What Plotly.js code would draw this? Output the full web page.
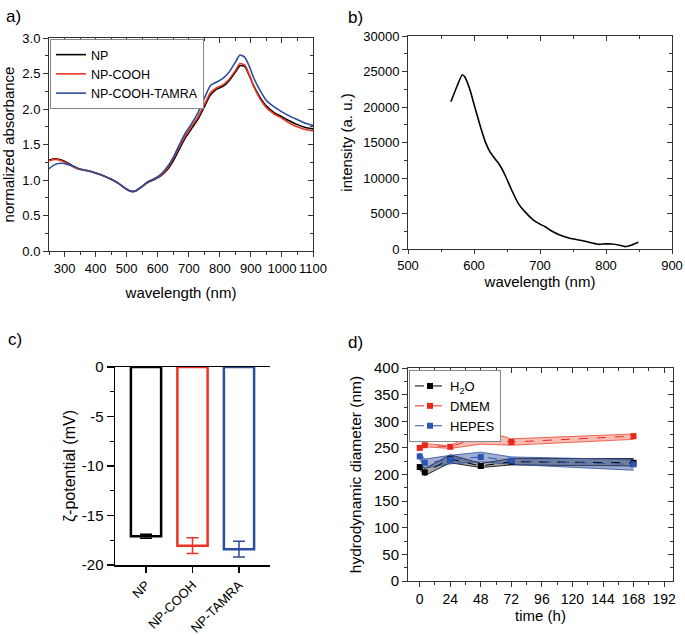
<!DOCTYPE html>
<html><head><meta charset="utf-8">
<script src="https://cdn.plot.ly/plotly-3.0.1.min.js"></script>
<style>html,body{margin:0;padding:0;background:#fff}#chart{width:685px;height:635px}</style>
</head><body><div id="chart"></div>
<script>
// ---------- Panel a: absorbance ----------
const wlA = [250,270,290,310,330,350,375,400,425,450,475,500,515,530,550,570,590,610,630,650,670,690,710,730,750,770,790,810,830,850,865,880,895,910,930,950,975,1000,1025,1050,1075,1100];
const absNP = [1.28,1.30,1.28,1.24,1.19,1.15,1.13,1.10,1.06,1.01,0.95,0.87,0.84,0.85,0.91,0.97,1.01,1.06,1.14,1.27,1.44,1.60,1.73,1.86,2.03,2.20,2.28,2.32,2.40,2.52,2.61,2.60,2.47,2.32,2.16,2.04,1.95,1.89,1.83,1.78,1.74,1.72];
const absCOOH = [1.27,1.29,1.27,1.23,1.18,1.15,1.13,1.10,1.06,1.01,0.95,0.87,0.84,0.85,0.91,0.98,1.02,1.07,1.16,1.30,1.47,1.63,1.76,1.89,2.06,2.23,2.30,2.34,2.42,2.54,2.64,2.62,2.48,2.31,2.14,2.02,1.93,1.87,1.80,1.75,1.71,1.69];
const absTAMRA = [1.16,1.22,1.235,1.22,1.19,1.15,1.13,1.10,1.06,1.01,0.95,0.87,0.84,0.85,0.91,0.98,1.02,1.08,1.18,1.32,1.50,1.67,1.80,1.95,2.15,2.33,2.38,2.43,2.52,2.66,2.76,2.73,2.60,2.43,2.26,2.12,2.03,1.96,1.90,1.85,1.80,1.77];
const absNames = ['NP','NP-COOH','NP-COOH-TAMRA'];

// ---------- Panel b: emission ----------
const wlB = [565,574,582,586,594,601,609,617,624,632,639,647,657,667,677,690,700,708,715,730,745,766,788,800,809,819,829,839,849];
const intB = [20750,22860,24510,24270,22390,20050,17460,15120,13710,12680,11830,10420,8310,6430,5260,4080,3500,3140,2680,1970,1500,1130,660,720,700,560,330,560,940];

// ---------- Panel c: zeta potential ----------
const zetaCats = ['NP','NP-COOH','NP-TAMRA'];
const zetaVals = [-17.1,-18.05,-18.4];
const zetaErr = [0.2,0.8,0.8];
const zetaTickVals = [-20,-15,-10,-5,0];
const zetaTickText = ['-20','-15','-10','-5','0'];

// ---------- Panel d: hydrodynamic diameter ----------
const tD = [0,4,24,48,72,168];
const h2oMean = [214,204,229,216,224,222];
const h2oLo = [209,198,222,213,218,216];
const h2oHi = [219,211,237,221,230,230];
const dmemMean = [250,255,252,271,261,272];
const dmemLo = [247,252,249,257,255,266];
const dmemHi = [253,258,254,284,267,276];
const hepesMean = [234,222,228,233,226,219];
const hepesLo = [228,212,220,224,219,208];
const hepesHi = [241,229,236,242,233,228];
const dNames = ['H<sub>2</sub>O','DMEM','HEPES'];

const cBlack = '#000000', cRed = '#ec3323', cBlue = '#2c4c9c';
const FONT = 'Liberation Sans, Arial, sans-serif';
const W = 685, H = 635;
const dx = (a,b) => [a/W, b/W];
const dy = (top,bot) => [1-bot/H, 1-top/H];

const traces = [];
// panel a
[[absNP,cBlack],[absCOOH,cRed],[absTAMRA,cBlue]].forEach((s,i)=>{
  traces.push({type:'scatter', mode:'lines', x:wlA, y:s[0], name:absNames[i],
    line:{color:s[1], width:1.6, shape:'spline', smoothing:0.6},
    xaxis:'x', yaxis:'y', legend:'legend', hoverinfo:'skip'});
});
// panel b
traces.push({type:'scatter', mode:'lines', x:wlB, y:intB, line:{color:'#000', width:1.6, shape:'spline', smoothing:0.5},
  xaxis:'x2', yaxis:'y2', showlegend:false, hoverinfo:'skip'});
// panel c
const zetaColors = [cBlack, cRed, cBlue];
zetaCats.forEach((c,i)=>{
  traces.push({type:'bar', x:[c], y:[zetaVals[i]], width:0.65, xaxis:'x3', yaxis:'y3', showlegend:false,
    marker:{color:'rgba(0,0,0,0)', line:{color:zetaColors[i], width:2.5}},
    error_y:{type:'data', array:[zetaErr[i]], visible:true, color:zetaColors[i], thickness:1.5, width:6},
    hoverinfo:'skip'});
});
// panel d bands
const bands = [[h2oLo,h2oHi,'0,0,0',0.35],[dmemLo,dmemHi,'236,70,45',0.35],[hepesLo,hepesHi,'44,76,156',0.45]];
bands.forEach(b=>{
  traces.push({type:'scatter', mode:'lines', x:tD, y:b[0], line:{color:'rgba('+b[2]+',0.8)', width:1},
    xaxis:'x4', yaxis:'y4', showlegend:false, hoverinfo:'skip'});
  traces.push({type:'scatter', mode:'lines', x:tD, y:b[1], line:{color:'rgba('+b[2]+',0.8)', width:1},
    fill:'tonexty', fillcolor:'rgba('+b[2]+','+b[3]+')',
    xaxis:'x4', yaxis:'y4', showlegend:false, hoverinfo:'skip'});
});
[[h2oMean,cBlack],[dmemMean,'#e8281c'],[hepesMean,'#2a56b4']].forEach((s,i)=>{
  traces.push({type:'scatter', mode:'lines+markers', x:tD, y:s[0], name:dNames[i],
    line:{color:s[1], width:1, dash:'dash'}, marker:{symbol:'square', size:6, color:s[1]},
    xaxis:'x4', yaxis:'y4', legend:'legend2', hoverinfo:'skip'});
});
// dummy traces so the mirror (top/right) axes are drawn
[['x5','y5'],['x6','y6'],['x7','y7']].forEach(p=>{
  traces.push({type:'scatter', mode:'lines', x:[null], y:[null], xaxis:p[0], yaxis:p[1], showlegend:false, hoverinfo:'skip'});
});

const LC = '#333';
function baseAx(o){
  return Object.assign({showgrid:false, zeroline:false, showline:true, linecolor:LC, linewidth:1,
    ticks:'outside', ticklen:5, tickcolor:LC, tickwidth:1, fixedrange:true}, o);
}
function mirrorAx(o){
  return Object.assign({showgrid:false, zeroline:false, showline:true, linecolor:LC, linewidth:1,
    ticks:'inside', ticklen:5, tickcolor:LC, tickwidth:1, showticklabels:false, fixedrange:true}, o);
}

const layout = {
  width:W, height:H, margin:{l:0,r:0,t:0,b:0}, paper_bgcolor:'#fff', plot_bgcolor:'#fff',
  font:{family:FONT, color:'#000', size:13}, showlegend:true, barmode:'overlay',
  // panel a
  xaxis: baseAx({domain:dx(49,313), anchor:'y', range:[250,1100], dtick:100, tick0:0,
    minor:{dtick:50, ticks:'outside', ticklen:3, tickcolor:LC},
    tickfont:{size:13}, title:{text:'wavelength (nm)', font:{size:15}, standoff:12}}),
  yaxis: baseAx({domain:dy(38,251), anchor:'x', range:[0,3], dtick:0.5, tickformat:'.1f',
    minor:{dtick:0.25, ticks:'outside', ticklen:3, tickcolor:LC},
    tickfont:{size:13}, title:{text:'normalized absorbance', font:{size:15}, standoff:6}}),
  xaxis5: mirrorAx({overlaying:'x', anchor:'y', side:'top', range:[250,1100], dtick:100, tick0:0,
    minor:{dtick:50, ticks:'inside', ticklen:3, tickcolor:LC}}),
  yaxis5: mirrorAx({overlaying:'y', anchor:'x', side:'right', range:[0,3], dtick:0.5,
    minor:{dtick:0.25, ticks:'inside', ticklen:3, tickcolor:LC}}),
  // panel b
  xaxis2: baseAx({domain:dx(408,672), anchor:'y2', range:[500,900], dtick:100, tick0:0, ticklen:4,
    minor:{dtick:50, ticks:'outside', ticklen:2, tickcolor:LC},
    tickfont:{size:13}, title:{text:'wavelength (nm)', font:{size:15}, standoff:0}}),
  yaxis2: baseAx({domain:dy(36,249), anchor:'x2', range:[0,30000], dtick:5000, tickformat:'d',
    minor:{dtick:2500, ticks:'outside', ticklen:3, tickcolor:LC},
    tickfont:{size:13}, title:{text:'intensity (a. u.)', font:{size:15}, standoff:6}}),
  xaxis6: mirrorAx({overlaying:'x2', anchor:'y2', side:'top', range:[500,900], dtick:100, tick0:0,
    minor:{dtick:50, ticks:'inside', ticklen:3, tickcolor:LC}}),
  yaxis6: mirrorAx({overlaying:'y2', anchor:'x2', side:'right', range:[0,30000], dtick:5000,
    minor:{dtick:2500, ticks:'inside', ticklen:3, tickcolor:LC}}),
  // panel c
  xaxis3: baseAx({domain:dx(115,270), anchor:'y3', type:'category', range:[-0.667,2.667],
    linecolor:'#000', linewidth:1.5, mirror:true, tickcolor:'#000', ticklen:6, tickwidth:1.2,
    tickangle:-45, tickfont:{size:13}}),
  yaxis3: baseAx({domain:dy(367,565), anchor:'x3', range:[-20,0], tickvals:zetaTickVals, ticktext:zetaTickText,
    linecolor:'#000', linewidth:1.5, tickcolor:'#000', ticklen:7, tickwidth:1.2,
    minor:{tickvals:[-17.5,-12.5,-7.5,-2.5], ticks:'outside', ticklen:4, tickcolor:'#000'},
    tickfont:{size:15}, title:{text:'ζ-potential (mV)', font:{size:16}, standoff:2}}),
  // panel d
  xaxis4: baseAx({domain:dx(408,673), anchor:'y4', range:[-9.2,199], dtick:24, tick0:0,
    minor:{dtick:12, ticks:'outside', ticklen:3, tickcolor:LC},
    tickfont:{size:14}, title:{text:'time (h)', font:{size:15}, standoff:4}}),
  yaxis4: baseAx({domain:dy(368,581), anchor:'x4', range:[0,400], dtick:50,
    minor:{dtick:25, ticks:'outside', ticklen:3, tickcolor:LC},
    tickfont:{size:15}, title:{text:'hydrodynamic diameter (nm)', font:{size:15.5}, standoff:8}}),
  xaxis7: mirrorAx({overlaying:'x4', anchor:'y4', side:'top', range:[-9.2,199], dtick:24, tick0:0,
    minor:{dtick:12, ticks:'inside', ticklen:3, tickcolor:LC}}),
  yaxis7: mirrorAx({overlaying:'y4', anchor:'x4', side:'right', range:[0,400], dtick:50,
    minor:{dtick:25, ticks:'inside', ticklen:3, tickcolor:LC}}),
  legend:{x:50/W, y:1-39/H, xanchor:'left', yanchor:'top', bgcolor:'#fff', bordercolor:'#888', borderwidth:1,
    font:{size:12.5}, tracegroupgap:0, itemwidth:30, traceorder:'normal'},
  legend2:{x:409/W, y:1-370/H, xanchor:'left', yanchor:'top', bgcolor:'#fff', bordercolor:'#888', borderwidth:1,
    font:{size:13}, tracegroupgap:0, itemwidth:30, traceorder:'normal'},
  annotations:[
    {text:'a)', x:4/W, y:1-16/H, xref:'paper', yref:'paper', xanchor:'left', yanchor:'middle', showarrow:false, font:{size:17}},
    {text:'b)', x:346/W, y:1-18/H, xref:'paper', yref:'paper', xanchor:'left', yanchor:'middle', showarrow:false, font:{size:17}},
    {text:'c)', x:6/W, y:1-339/H, xref:'paper', yref:'paper', xanchor:'left', yanchor:'middle', showarrow:false, font:{size:17}},
    {text:'d)', x:346/W, y:1-342/H, xref:'paper', yref:'paper', xanchor:'left', yanchor:'middle', showarrow:false, font:{size:17}}
  ]
};

Plotly.newPlot('chart', traces, layout, {staticPlot:true, displayModeBar:false});
</script>
</body></html>
